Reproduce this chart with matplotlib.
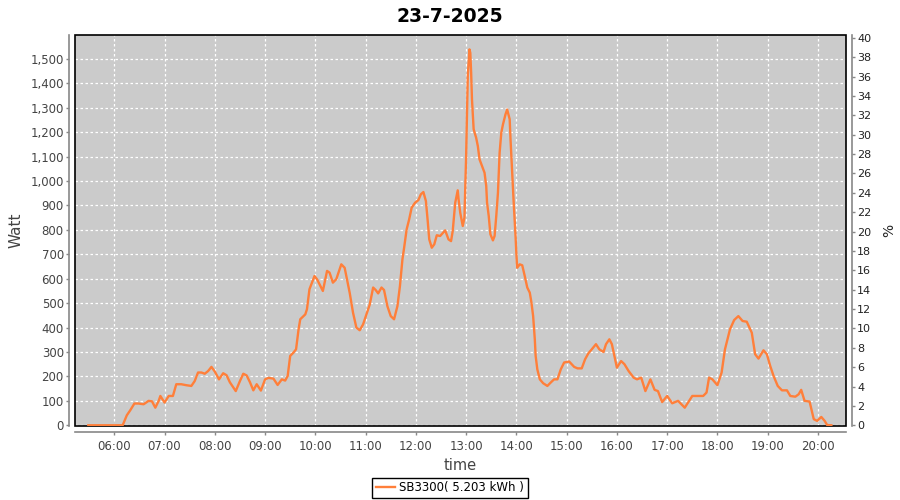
import matplotlib
matplotlib.use("Agg")
import matplotlib.pyplot as plt
from matplotlib.ticker import FuncFormatter, MultipleLocator
from matplotlib.patches import Rectangle

title = "23-7-2025"
series_name = "SB3300( 5.203 kWh )"

times = ["05:29", "06:10", "06:15", "06:19", "06:24", "06:29", "06:35", "06:41", "06:45", "06:49",
         "06:53", "06:55", "07:00", "07:05", "07:10", "07:14", "07:20", "07:26", "07:32", "07:36",
         "07:40", "07:44", "07:48", "07:52", "07:56", "08:00", "08:05", "08:10", "08:14", "08:18",
         "08:25", "08:30", "08:34", "08:38", "08:42", "08:46", "08:50", "08:55", "09:00", "09:04",
         "09:10", "09:15", "09:20", "09:24", "09:27", "09:30", "09:34", "09:37", "09:40", "09:42",
         "09:48", "09:50", "09:53", "09:59", "10:02", "10:09", "10:14", "10:17", "10:21", "10:25",
         "10:31", "10:35", "10:37", "10:41", "10:45", "10:49", "10:53", "10:57", "11:01", "11:05",
         "11:09", "11:12", "11:15", "11:19", "11:22", "11:26", "11:30", "11:34", "11:38", "11:41",
         "11:44", "11:46", "11:49", "11:52", "11:55", "11:59", "12:03", "12:06", "12:09", "12:12",
         "12:14", "12:16", "12:19", "12:22", "12:25", "12:29", "12:35", "12:39", "12:42", "12:44",
         "12:47", "12:50", "12:51", "12:53", "12:56", "12:58", "13:00", "13:02", "13:04", "13:05",
         "13:06", "13:07", "13:09", "13:12", "13:14", "13:16", "13:19", "13:22", "13:24", "13:25",
         "13:27", "13:29", "13:32", "13:34", "13:36", "13:38", "13:40", "13:42", "13:44", "13:47",
         "13:49", "13:52", "13:53", "13:55", "13:57", "13:59", "14:00", "14:01", "14:04", "14:07",
         "14:10", "14:13", "14:16", "14:18", "14:20", "14:22", "14:23", "14:25", "14:28", "14:32",
         "14:37", "14:41", "14:45", "14:49", "14:53", "14:57", "15:03", "15:09", "15:13", "15:18",
         "15:22", "15:26", "15:30", "15:35", "15:39", "15:44", "15:47", "15:51", "15:54", "15:57",
         "16:00", "16:05", "16:09", "16:14", "16:20", "16:24", "16:29", "16:34", "16:40", "16:45",
         "16:49", "16:54", "17:00", "17:06", "17:13", "17:21", "17:25", "17:30", "17:43", "17:47",
         "17:50", "17:54", "18:00", "18:05", "18:09", "18:15", "18:20", "18:25", "18:30", "18:35",
         "18:41", "18:45", "18:49", "18:55", "18:59", "19:03", "19:07", "19:12", "19:17", "19:23",
         "19:27", "19:33", "19:37", "19:40", "19:44", "19:50", "19:55", "19:59", "20:04", "20:08",
         "20:11", "20:16"]

watts = [0, 0, 41, 61, 89, 89, 86, 100, 98, 72,
         100, 120, 93, 120, 120, 168, 168, 164, 161, 181,
         216, 216, 211, 222, 239, 220, 188, 213, 205, 176,
         140, 181, 211, 204, 176, 143, 168, 142, 188, 194,
         191, 165, 188, 183, 202, 284, 298, 311, 393, 434,
         454, 475, 557, 611, 598, 550, 632, 625, 584, 598,
         659, 645, 611, 543, 461, 400, 389, 413, 454, 495,
         564, 554, 540, 564, 554, 488, 447, 434, 488, 570,
         680, 727, 802, 843, 891, 911, 922, 946, 955, 918,
         843, 761, 727, 741, 778, 775, 798, 761, 754, 795,
         911, 962, 925, 870, 816, 850, 1100, 1430, 1539, 1525,
         1444, 1334, 1212, 1177, 1143, 1089, 1061, 1034, 980, 911,
         857, 782, 757, 775, 857, 952, 1116, 1198, 1232, 1273,
         1293, 1253, 1171, 1034, 898, 775, 700, 645, 659, 655,
         611, 564, 543, 502, 447, 352, 284, 229, 188, 172,
         161, 175, 188, 188, 229, 257, 261, 239, 233, 233,
         270, 295, 311, 332, 311, 300, 332, 352, 332, 284,
         236, 263, 250, 222, 195, 188, 195, 140, 188, 145,
         140, 95, 120, 90, 100, 72, 93, 120, 120, 134,
         195, 188, 164, 216, 311, 393, 431, 447, 427, 424,
         379, 291, 273, 307, 291, 243, 202, 161, 143, 143,
         120, 117, 127, 145, 100, 97, 25, 18, 34, 18,
         1, 0]

hour_ticks = list(range(6, 21))


def to_hours(s):
    h, m = s.split(":")
    return int(h) + int(m) / 60.0


x = [to_hours(t) for t in times]

LINE = "#FF7F3A"
BG = "#CBCBCB"
AXC = "#888888"
TXT = "#444444"

fig = plt.figure(figsize=(9, 5), dpi=100)
ax = fig.add_axes([0.0833, 0.148, 0.8567, 0.782])
ax.set_facecolor(BG)

ax.plot(x, watts, color=LINE, lw=1.7, label=series_name, zorder=6)

ax.set_xlim(5.218, 20.558)
ax.set_ylim(-3, 1598)

ax.xaxis.set_major_locator(matplotlib.ticker.FixedLocator(hour_ticks))
ax.xaxis.set_major_formatter(FuncFormatter(lambda v, p: "%02d:00" % int(round(v))))
ax.yaxis.set_major_locator(matplotlib.ticker.FixedLocator(list(range(0, 1600, 100))))
ax.yaxis.set_major_formatter(FuncFormatter(lambda v, p: "{:,}".format(int(round(v)))))

ax.grid(True, color="white", linestyle=(0, (2, 2)), linewidth=0.9)
ax.set_axisbelow(True)

for side in ["top", "right"]:
    ax.spines[side].set_visible(False)
for side in ["left", "bottom"]:
    ax.spines[side].set_position(("outward", 4))
    ax.spines[side].set_color(AXC)
    ax.spines[side].set_linewidth(1.2)

ax.tick_params(axis="both", colors=AXC, labelcolor=TXT, labelsize=8.5, length=2, width=1, pad=2)
ax.tick_params(axis="x", pad=4)

ax.add_patch(Rectangle((0, 0), 1, 1, transform=ax.transAxes, fill=False,
                       edgecolor="black", linewidth=1.2, clip_on=False, zorder=5))

ax2 = ax.twinx()
ax2.set_ylim(-0.075, 40.3)
ax2.yaxis.set_major_locator(matplotlib.ticker.FixedLocator(list(range(0, 41, 2))))
for side in ["top", "left", "bottom"]:
    ax2.spines[side].set_visible(False)
ax2.spines["right"].set_position(("outward", 4))
ax2.spines["right"].set_color(AXC)
ax2.spines["right"].set_linewidth(1.2)
ax2.tick_params(axis="y", colors=AXC, labelcolor="#222222", labelsize=8, length=2, width=1, pad=2)
ax2.set_ylabel("%", fontsize=10, color="#222222", labelpad=8)

ax.set_ylabel("Watt", fontsize=11, color=TXT, labelpad=5)
ax.set_xlabel("time", fontsize=10.5, color=TXT, labelpad=4)

fig.suptitle(title, fontsize=13.5, fontweight="bold", y=0.985)

leg = fig.legend(loc="center", bbox_to_anchor=(0.5, 0.024), fontsize=8.5,
                 frameon=True, fancybox=False, edgecolor="black", framealpha=1,
                 handlelength=1.6, borderpad=0.3, handletextpad=0.4)
leg.get_frame().set_linewidth(1.0)

fig.savefig("out.png", dpi=100)
